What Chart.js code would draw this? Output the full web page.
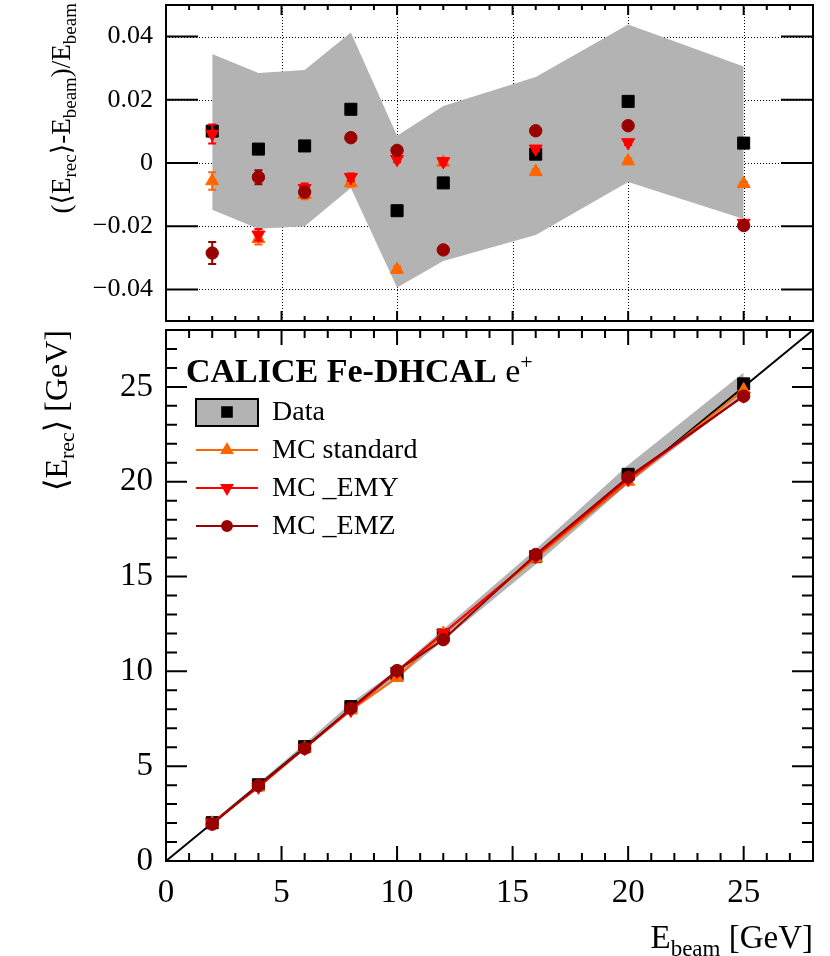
<!DOCTYPE html>
<html>
<head>
<meta charset="utf-8">
<script src="https://cdn.jsdelivr.net/npm/chart.js@4.4.1/dist/chart.umd.min.js"></script>
<style>
  html, body { margin: 0; padding: 0; background: #fff; }
  #wrap { position: relative; width: 830px; height: 956px; overflow: hidden; }
  canvas { position: absolute; left: 0; }
  #top { top: 0; }
  #bottom { top: 320px; }
</style>
</head>
<body>
<div id="wrap">
  <canvas id="top" width="830" height="330"></canvas>
  <canvas id="bottom" width="830" height="636"></canvas>
</div>
<script>
// beam energies [GeV]
const eBeam = [2, 4, 6, 8, 10, 12, 16, 20, 25];

// (<E_rec> - E_beam) / E_beam
const resData   = [0.0101, 0.0044, 0.0054, 0.0170, -0.0151, -0.0063, 0.0028, 0.0195, 0.0063];
const resStd    = [-0.0057, -0.0240, -0.0100, -0.0063, -0.0337, 0.0002, -0.0028, 0.0006, -0.0066];
const resEMY    = [0.0092, -0.0227, -0.0080, -0.0045, 0.0012, 0.0005, 0.0045, 0.0065, -0.0190];
const resEMZ    = [-0.0285, -0.0045, -0.0092, 0.0080, 0.0040, -0.0275, 0.0102, 0.0118, -0.0198];
const errStd    = [0.0028, 0.0018, 0.0015, 0.0012, 0.0010, 0.0010, 0.0008, 0.0008, 0.0007];
const errEMY    = [0.0030, 0.0018, 0.0015, 0.0012, 0.0010, 0.0010, 0.0008, 0.0008, 0.0007];
const errEMZ    = [0.0035, 0.0022, 0.0016, 0.0013, 0.0011, 0.0010, 0.0009, 0.0008, 0.0007];
const resBandHi = [0.0345, 0.0285, 0.0294, 0.0413, 0.0086, 0.0180, 0.0272, 0.0438, 0.0305];
const resBandLo = [-0.0148, -0.0208, -0.0200, -0.0079, -0.0394, -0.0310, -0.0228, -0.0060, -0.0177];

// <E_rec> [GeV]
const recData   = [2.02, 4.02, 6.03, 8.14, 9.85, 11.92, 16.05, 20.39, 25.16];
const recStd    = [1.99, 3.90, 5.94, 7.95, 9.66, 12.00, 15.96, 20.01, 24.84];
const recEMY    = [2.02, 3.91, 5.95, 7.96, 10.01, 12.01, 16.07, 20.13, 24.53];
const recEMZ    = [1.94, 3.98, 5.94, 8.06, 10.04, 11.67, 16.16, 20.24, 24.51];
const recBandHi = [2.07, 4.11, 6.18, 8.33, 10.09, 12.22, 16.44, 20.88, 25.76];
const recBandLo = [1.97, 3.92, 5.88, 7.94, 9.61, 11.63, 15.64, 19.88, 24.56];
const diagX     = [0, 28];

const xTicks    = [0, 5, 10, 15, 20, 25];
const yTicksRes = [-0.04, -0.02, 0, 0.02, 0.04];
const yTicksRec = [0, 5, 10, 15, 20, 25];
const legendLabels = ['Data', 'MC standard', 'MC _EMY', 'MC _EMZ'];

const FONT = '"Liberation Serif", "DejaVu Serif", serif';
const BAND = '#b3b3b3';
const ORANGE = '#ff6600';
const RED = '#ff0000';
const DARKRED = '#990000';

Chart.defaults.font.family = FONT;
Chart.defaults.color = '#000';

const pts = ys => eBeam.map((x, i) => ({ x: x, y: ys[i] }));

function marker(ys, color, style, r, rot, order, errs, line) {
  return {
    data: pts(ys), errors: errs, order: order,
    showLine: !!line, borderColor: color, borderWidth: line ? 2 : 0,
    pointStyle: style, pointRadius: r, pointRotation: rot,
    pointBackgroundColor: color, pointBorderColor: color, pointBorderWidth: 1,
    fill: false, tension: 0
  };
}

function fmtRes(v) {
  if (Math.abs(v) < 1e-9) return '0';
  return (v < 0 ? '\u2212' : '') + Math.abs(v).toFixed(2);
}

// fixed axis boxes, no extra label padding
function fixBox(w, h) {
  return s => {
    if (w !== null) s.width = w;
    if (h !== null) s.height = h;
    s.paddingTop = 0; s.paddingBottom = 0;
    s.paddingLeft = 0; s.paddingRight = 0;
  };
}

// text with sub/superscripts: [text, size, dy, bold]
function richWidth(ctx, parts) {
  let w = 0;
  parts.forEach(p => {
    ctx.font = (p[3] ? 'bold ' : '') + p[1] + 'px ' + FONT;
    w += ctx.measureText(p[0]).width;
  });
  return w;
}
function drawRich(ctx, parts, x, y) {
  let cx = x;
  parts.forEach(p => {
    ctx.font = (p[3] ? 'bold ' : '') + p[1] + 'px ' + FONT;
    ctx.fillText(p[0], cx, y + p[2]);
    cx += ctx.measureText(p[0]).width;
  });
}

// ROOT-like frame: inward ticks on all sides, optional dotted grid
const framePlugin = {
  id: 'frame',
  beforeDatasetsDraw(chart, args, o) {
    if (!o.grid) return;
    const { ctx, chartArea: a, scales: { x, y } } = chart;
    ctx.save();
    ctx.strokeStyle = '#000';
    ctx.lineWidth = 1;
    ctx.setLineDash([1, 2]);
    ctx.beginPath();
    xTicks.forEach(v => {
      if (v <= 0) return;
      const px = Math.round(x.getPixelForValue(v)) + 0.5;
      ctx.moveTo(px, a.top); ctx.lineTo(px, a.bottom);
    });
    o.yMajor.forEach(v => {
      const py = Math.round(y.getPixelForValue(v)) + 0.5;
      ctx.moveTo(a.left, py); ctx.lineTo(a.right, py);
    });
    ctx.stroke();
    ctx.restore();
  },
  afterDraw(chart, args, o) {
    const { ctx, chartArea: a, scales: { x, y } } = chart;
    ctx.save();
    ctx.strokeStyle = '#000';
    ctx.lineWidth = 2;
    ctx.beginPath();
    for (let v = 1; v < 28; v++) {
      const len = v % 5 === 0 ? o.xMajorLen : o.xMinorLen;
      const px = x.getPixelForValue(v);
      ctx.moveTo(px, a.bottom); ctx.lineTo(px, a.bottom - len);
      ctx.moveTo(px, a.top); ctx.lineTo(px, a.top + len);
    }
    o.yMajor.forEach(v => {
      const py = y.getPixelForValue(v);
      ctx.moveTo(a.left, py); ctx.lineTo(a.left + o.yMajorLen, py);
      ctx.moveTo(a.right, py); ctx.lineTo(a.right - o.yMajorLen, py);
    });
    o.yMinor.forEach(v => {
      const py = y.getPixelForValue(v);
      ctx.moveTo(a.left, py); ctx.lineTo(a.left + o.yMinorLen, py);
      ctx.moveTo(a.right, py); ctx.lineTo(a.right - o.yMinorLen, py);
    });
    ctx.stroke();
    ctx.strokeRect(a.left, a.top, a.right - a.left, a.bottom - a.top);
    ctx.restore();
  }
};

const errorPlugin = {
  id: 'errbars',
  beforeDatasetDraw(chart, args) {
    const ds = chart.data.datasets[args.index];
    if (!ds.errors) return;
    const { ctx, scales: { y } } = chart;
    ctx.save();
    ctx.strokeStyle = ds.pointBackgroundColor;
    ctx.lineWidth = 2;
    ctx.beginPath();
    args.meta.data.forEach((el, i) => {
      const v = ds.data[i].y;
      const y1 = y.getPixelForValue(v + ds.errors[i]);
      const y2 = y.getPixelForValue(v - ds.errors[i]);
      ctx.moveTo(el.x, y1); ctx.lineTo(el.x, y2);
      ctx.moveTo(el.x - 4, y1); ctx.lineTo(el.x + 4, y1);
      ctx.moveTo(el.x - 4, y2); ctx.lineTo(el.x + 4, y2);
    });
    ctx.stroke();
    ctx.restore();
  }
};

const topText = {
  id: 'topText',
  afterDraw(chart) {
    const ctx = chart.ctx;
    const parts = [['(\u27E8E', 27, 0], ['rec', 19, 6], ['\u27E9-E', 27, 0], ['beam', 19, 6],
                   [')/E', 27, 0], ['beam', 19, 6]];
    ctx.save();
    ctx.fillStyle = '#000';
    ctx.textBaseline = 'alphabetic';
    ctx.translate(70, 3);
    ctx.rotate(-Math.PI / 2);
    drawRich(ctx, parts, -richWidth(ctx, parts), 0);
    ctx.restore();
  }
};

const bottomText = {
  id: 'bottomText',
  afterDraw(chart) {
    const ctx = chart.ctx;
    ctx.save();
    ctx.fillStyle = '#000';
    ctx.textBaseline = 'alphabetic';

    // y title
    const yParts = [['\u27E8E', 32, 0], ['rec', 22, 7], ['\u27E9 [GeV]', 32, 0]];
    ctx.save();
    ctx.translate(67, 10);
    ctx.rotate(-Math.PI / 2);
    drawRich(ctx, yParts, -richWidth(ctx, yParts), 0);
    ctx.restore();

    // x title
    const xParts = [['E', 33, 0], ['beam', 23, 8], [' [GeV]', 33, 0]];
    drawRich(ctx, xParts, 813 - richWidth(ctx, xParts), 628);

    // header
    drawRich(ctx, [['CALICE Fe-DHCAL', 34, 0, true], [' e', 34, 0], ['+', 22, -13]], 186, 62);

    // legend
    const ds = chart.data.datasets;
    const rows = [ds[3], ds[4], ds[5], ds[6]];
    const rowY = [92, 130, 168, 206];
    ctx.lineWidth = 2;
    ctx.fillStyle = BAND;
    ctx.strokeStyle = '#000';
    ctx.fillRect(196, 79, 62, 27);
    ctx.strokeRect(196, 79, 62, 27);
    rows.forEach((d, i) => {
      if (i > 0) {
        ctx.strokeStyle = d.borderColor;
        ctx.beginPath();
        ctx.moveTo(196, rowY[i]); ctx.lineTo(258, rowY[i]);
        ctx.stroke();
      }
      ctx.fillStyle = d.pointBackgroundColor;
      ctx.strokeStyle = d.pointBorderColor;
      Chart.helpers.drawPoint(ctx, {
        pointStyle: d.pointStyle, rotation: d.pointRotation,
        radius: d.pointRadius * 0.8, borderWidth: 1
      }, 227, rowY[i]);
      ctx.fillStyle = '#000';
      ctx.font = '28px ' + FONT;
      ctx.fillText(legendLabels[i], 272, rowY[i] + 8);
    });
    ctx.restore();
  }
};

const commonPlugins = { legend: { display: false }, tooltip: { enabled: false } };

new Chart(document.getElementById('top'), {
  type: 'line',
  data: {
    datasets: [
      { data: pts(resBandHi), fill: '+1', backgroundColor: BAND, borderWidth: 0, pointRadius: 0, order: 10 },
      { data: pts(resBandLo), fill: false, borderWidth: 0, pointRadius: 0, order: 10 },
      marker(resData, '#000', 'rect', 8.5, 0, 4),
      marker(resStd, ORANGE, 'triangle', 7.5, 0, 3, errStd),
      marker(resEMY, RED, 'triangle', 7.5, 180, 2, errEMY),
      marker(resEMZ, DARKRED, 'circle', 6.2, 0, 1, errEMZ)
    ]
  },
  options: {
    responsive: false,
    animation: false,
    layout: { autoPadding: false, padding: { top: 5, right: 17, bottom: 9, left: 0 } },
    scales: {
      x: { type: 'linear', min: 0, max: 28, display: false },
      y: {
        type: 'linear', min: -0.05, max: 0.05,
        grid: { display: false, drawTicks: false },
        border: { display: false },
        afterFit: fixBox(166, null),
        afterBuildTicks: s => { s.ticks = yTicksRes.map(v => ({ value: v })); },
        ticks: { font: { size: 26 }, padding: 13, callback: v => fmtRes(v) }
      }
    },
    plugins: Object.assign({
      frame: { grid: true, xMajorLen: 10, xMinorLen: 5, yMajorLen: 32, yMinorLen: 0, yMajor: yTicksRes, yMinor: [] }
    }, commonPlugins)
  },
  plugins: [framePlugin, errorPlugin, topText]
});

const recMinor = [];
for (let v = 1; v < 28; v++) if (v % 5 !== 0) recMinor.push(v);

new Chart(document.getElementById('bottom'), {
  type: 'line',
  data: {
    datasets: [
      { data: pts(recBandHi), fill: '+1', backgroundColor: BAND, borderWidth: 0, pointRadius: 0, order: 10 },
      { data: pts(recBandLo), fill: false, borderWidth: 0, pointRadius: 0, order: 10 },
      { data: diagX.map(v => ({ x: v, y: v })), borderColor: '#000', borderWidth: 2, pointRadius: 0, fill: false, order: 6 },
      marker(recData, '#000', 'rect', 8.5, 0, 5),
      marker(recStd, ORANGE, 'triangle', 7.5, 0, 3, null, true),
      marker(recEMY, RED, 'triangle', 7.5, 180, 2, null, true),
      marker(recEMZ, DARKRED, 'circle', 6.2, 0, 1, null, true)
    ]
  },
  options: {
    responsive: false,
    animation: false,
    layout: { autoPadding: false, padding: { top: 10, right: 17, bottom: 0, left: 0 } },
    scales: {
      x: {
        type: 'linear', min: 0, max: 28,
        grid: { display: false, drawTicks: false },
        border: { display: false },
        afterFit: fixBox(null, 95),
        afterBuildTicks: s => { s.ticks = xTicks.map(v => ({ value: v })); },
        ticks: { font: { size: 33 }, padding: 13, maxRotation: 0 }
      },
      y: {
        type: 'linear', min: 0, max: 28,
        grid: { display: false, drawTicks: false },
        border: { display: false },
        afterFit: fixBox(166, null),
        afterBuildTicks: s => { s.ticks = yTicksRec.map(v => ({ value: v })); },
        ticks: { font: { size: 33 }, padding: 13 }
      }
    },
    plugins: Object.assign({
      frame: { grid: false, xMajorLen: 15, xMinorLen: 8, yMajorLen: 21, yMinorLen: 11, yMajor: yTicksRec, yMinor: recMinor }
    }, commonPlugins)
  },
  plugins: [framePlugin, bottomText]
});
</script>
</body>
</html>
